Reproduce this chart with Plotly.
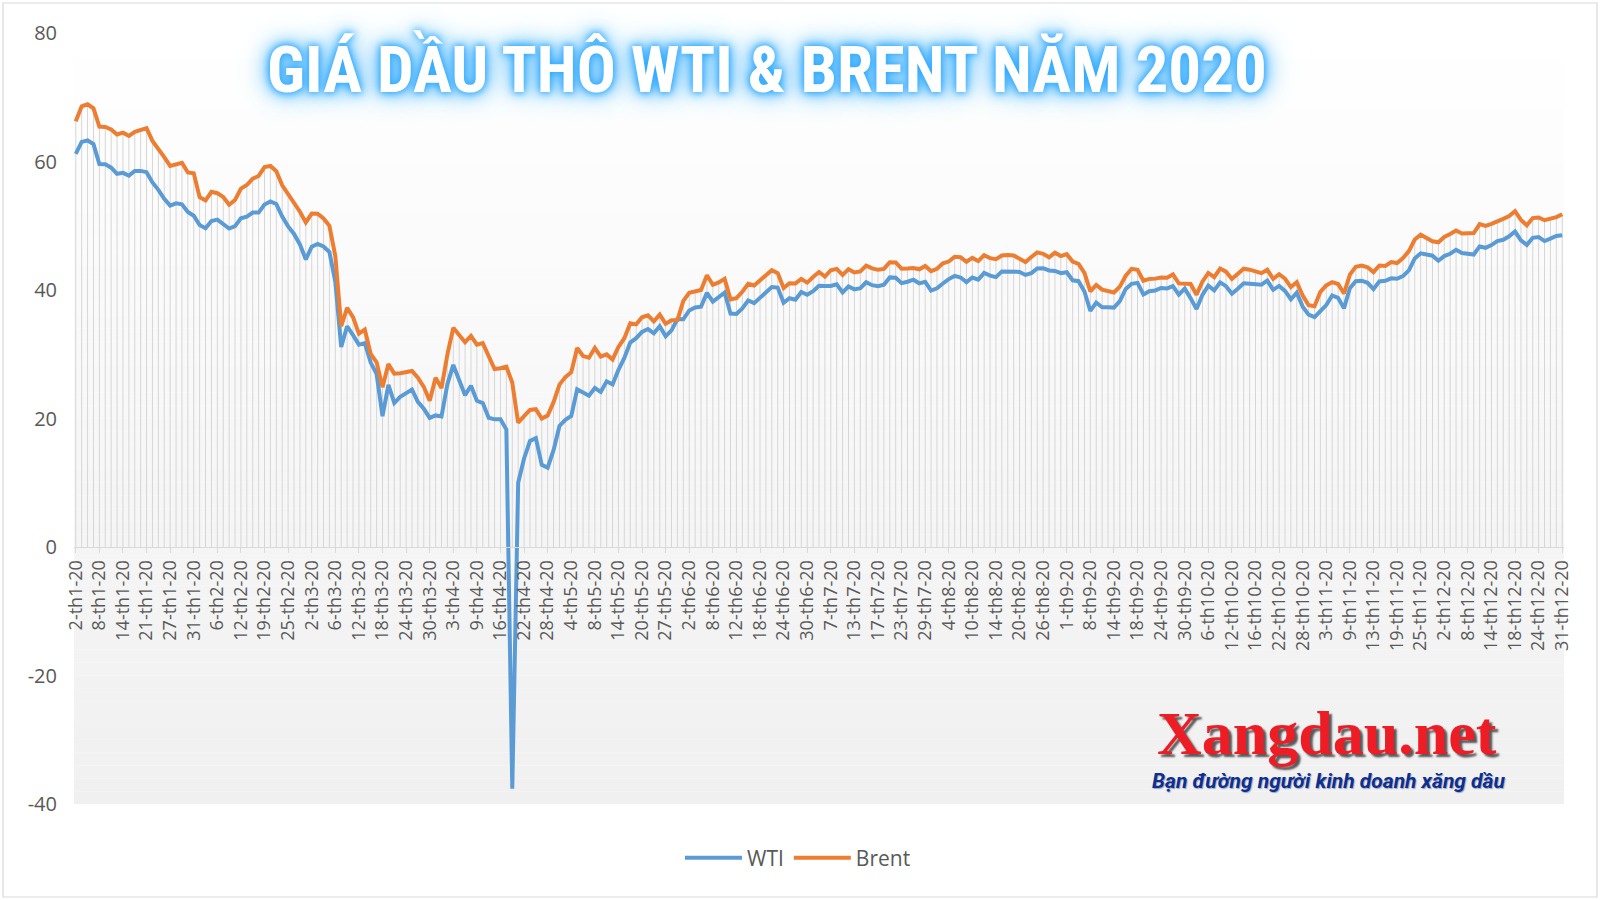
import plotly.graph_objects as go

# ---------------- data ----------------
YEAR_SUFFIX = "20"
TRADING_DAYS = {
    1: [2, 3, 6, 7, 8, 9, 10, 13, 14, 15, 16, 17, 21, 22, 23, 24, 27, 28, 29, 30, 31],
    2: [3, 4, 5, 6, 7, 10, 11, 12, 13, 14, 18, 19, 20, 21, 24, 25, 26, 27, 28],
    3: [2, 3, 4, 5, 6, 9, 10, 11, 12, 13, 16, 17, 18, 19, 20, 23, 24, 25, 26, 27, 30, 31],
    4: [1, 2, 3, 6, 7, 8, 9, 13, 14, 15, 16, 17, 20, 21, 22, 23, 24, 27, 28, 29, 30],
    5: [1, 4, 5, 6, 7, 8, 11, 12, 13, 14, 15, 18, 19, 20, 21, 22, 26, 27, 28, 29],
    6: [1, 2, 3, 4, 5, 8, 9, 10, 11, 12, 15, 16, 17, 18, 19, 22, 23, 24, 25, 26, 29, 30],
    7: [1, 2, 6, 7, 8, 9, 10, 13, 14, 15, 16, 17, 20, 21, 22, 23, 24, 27, 28, 29, 30, 31],
    8: [3, 4, 5, 6, 7, 10, 11, 12, 13, 14, 17, 18, 19, 20, 21, 24, 25, 26, 27, 28, 31],
    9: [1, 2, 3, 4, 8, 9, 10, 11, 14, 15, 16, 17, 18, 21, 22, 23, 24, 25, 28, 29, 30],
    10: [1, 2, 5, 6, 7, 8, 9, 12, 13, 14, 15, 16, 19, 20, 21, 22, 23, 26, 27, 28, 29, 30],
    11: [2, 3, 4, 5, 6, 9, 10, 11, 12, 13, 16, 17, 18, 19, 20, 23, 24, 25, 27, 30],
    12: [1, 2, 3, 4, 7, 8, 9, 10, 11, 14, 15, 16, 17, 18, 21, 22, 23, 24, 28, 29, 30, 31],
}
categories = [f"{d}-th{m}-{YEAR_SUFFIX}" for m, days in TRADING_DAYS.items() for d in days]

wti = [
    # Jan
    61.18, 63.05, 63.27, 62.70, 59.61, 59.56, 59.04, 58.08, 58.23, 57.81, 58.52, 58.54, 58.34, 56.74, 55.59, 54.19, 53.14, 53.48, 53.33, 52.14, 51.56,
    # Feb
    50.11, 49.61, 50.75, 50.95, 50.32, 49.57, 49.94, 51.17, 51.42, 52.05, 52.05, 53.29, 53.78, 53.38, 51.43, 49.90, 48.73, 47.09, 44.76,
    # Mar
    46.75, 47.18, 46.78, 45.90, 41.28, 31.13, 34.36, 32.98, 31.50, 31.73, 28.70, 26.95, 20.37, 25.22, 22.43, 23.36, 24.01, 24.49, 22.60, 21.51, 20.09, 20.48,
    # Apr
    20.31, 25.32, 28.34, 26.08, 23.63, 25.09, 22.76, 22.41, 20.11, 19.87, 19.87, 18.27, -37.63, 10.01, 13.78, 16.50, 16.94, 12.78, 12.34, 15.06, 18.84,
    # May
    19.78, 20.39, 24.56, 23.99, 23.55, 24.74, 24.14, 25.78, 25.29, 27.56, 29.43, 31.82, 32.50, 33.49, 33.92, 33.25, 34.35, 32.81, 33.71, 35.49,
    # Jun
    35.44, 36.81, 37.29, 37.41, 39.55, 38.19, 38.94, 39.60, 36.34, 36.26, 37.12, 38.38, 37.96, 38.84, 39.75, 40.46, 40.37, 38.01, 38.72, 38.49, 39.70, 39.27,
    # Jul
    39.82, 40.65, 40.63, 40.62, 40.90, 39.62, 40.55, 40.10, 40.29, 41.20, 40.75, 40.59, 40.81, 41.96, 41.90, 41.07, 41.29, 41.60, 41.04, 41.27, 39.92, 40.27,
    # Aug
    41.01, 41.70, 42.19, 41.95, 41.22, 41.94, 41.61, 42.67, 42.24, 42.01, 42.89, 42.89, 42.93, 42.82, 42.34, 42.62, 43.35, 43.39, 43.04, 42.97, 42.61,
    # Sep
    42.76, 41.51, 41.37, 39.77, 36.76, 38.05, 37.30, 37.33, 37.26, 38.28, 40.16, 40.97, 41.11, 39.31, 39.80, 39.93, 40.31, 40.25, 40.60, 39.29, 40.22,
    # Oct
    38.72, 37.05, 39.22, 40.67, 39.95, 41.19, 40.60, 39.43, 40.20, 41.04, 40.96, 40.88, 40.83, 41.46, 40.03, 40.64, 39.85, 38.56, 39.57, 37.39, 36.17, 35.79,
    # Nov
    36.81, 37.66, 39.15, 38.79, 37.14, 40.29, 41.36, 41.45, 41.12, 40.13, 41.34, 41.43, 41.82, 41.74, 42.15, 43.06, 44.91, 45.71, 45.53, 45.34,
    # Dec
    44.55, 45.28, 45.64, 46.26, 45.76, 45.60, 45.52, 46.78, 46.57, 46.99, 47.62, 47.82, 48.36, 49.10, 47.74, 47.02, 48.12, 48.23, 47.62, 48.00, 48.40, 48.52,
]

brent = [
    # Jan
    66.25, 68.60, 68.91, 68.27, 65.44, 65.37, 64.98, 64.20, 64.49, 64.00, 64.62, 64.85, 65.20, 63.21, 62.04, 60.69, 59.32, 59.51, 59.81, 58.29, 58.16,
    # Feb
    54.45, 53.96, 55.28, 55.07, 54.47, 53.27, 54.01, 55.79, 56.34, 57.32, 57.75, 59.12, 59.31, 58.50, 56.30, 54.95, 53.43, 52.18, 50.52,
    # Mar
    51.90, 51.86, 51.13, 49.99, 45.27, 34.36, 37.22, 35.79, 33.22, 33.85, 30.05, 28.73, 24.88, 28.47, 26.98, 27.03, 27.15, 27.39, 26.34, 24.93, 22.76, 26.35,
    # Apr
    24.74, 29.94, 34.11, 33.05, 31.87, 32.84, 31.48, 31.74, 29.60, 27.69, 27.82, 28.08, 25.57, 19.33, 20.37, 21.33, 21.44, 19.99, 20.46, 22.54, 25.27,
    # May
    26.44, 27.20, 30.97, 29.72, 29.46, 30.97, 29.63, 29.98, 29.19, 31.13, 32.50, 34.81, 34.65, 35.75, 36.06, 35.13, 36.17, 34.74, 35.29, 35.33,
    # Jun
    38.32, 39.57, 39.79, 39.99, 42.30, 40.80, 41.18, 41.73, 38.55, 38.73, 39.72, 40.96, 40.71, 41.51, 42.19, 43.08, 42.63, 40.31, 41.05, 41.02, 41.71, 41.15,
    # Jul
    42.03, 42.80, 42.10, 43.08, 43.29, 42.35, 43.24, 42.72, 42.90, 43.79, 43.37, 43.14, 43.28, 44.32, 44.29, 43.31, 43.34, 43.41, 43.22, 43.75, 42.94, 43.30,
    # Aug
    44.15, 44.43, 45.17, 45.09, 44.40, 44.99, 44.50, 45.43, 44.96, 44.80, 45.37, 45.46, 45.37, 44.90, 44.35, 45.13, 45.86, 45.64, 45.09, 45.81, 45.28,
    # Sep
    45.58, 44.43, 44.07, 42.66, 39.78, 40.79, 40.06, 39.83, 39.61, 40.53, 42.22, 43.30, 43.15, 41.44, 41.72, 41.77, 41.94, 41.92, 42.43, 41.03, 40.95,
    # Oct
    40.93, 39.27, 41.29, 42.65, 41.99, 43.34, 42.85, 41.72, 42.45, 43.32, 43.16, 42.93, 42.62, 43.16, 41.73, 42.46, 41.77, 40.46, 41.20, 39.12, 37.65, 37.46,
    # Nov
    39.71, 40.71, 41.23, 40.93, 39.45, 42.40, 43.61, 43.80, 43.53, 42.78, 43.82, 43.75, 44.34, 44.20, 44.96, 46.06, 47.86, 48.61, 48.18, 47.59,
    # Dec
    47.42, 48.25, 48.71, 49.25, 48.79, 48.84, 48.86, 50.25, 49.97, 50.29, 50.76, 51.08, 51.50, 52.26, 50.91, 50.08, 51.20, 51.29, 50.86, 51.09, 51.34, 51.80,
]

y_ticks = [-40, -20, 0, 20, 40, 60, 80]
y_tick_text = ["-40", "-20", "0", "20", "40", "60", "80"]
TITLE = "GIÁ DẦU THÔ WTI & BRENT NĂM 2020"
BRAND = "Xangdau.net"
SLOGAN = "Bạn đường người kinh doanh xăng dầu"

# ---------------- layout geometry ----------------
W, H = 1600, 900
ML, MR, MT, MB = 74, 36, 33, 96
PW, PH = W - ML - MR, H - MT - MB


def px_x(x):
    return (x - ML) / PW


def px_y(y):
    return (H - MB - y) / PH


GREY_TXT = "#595959"

fig = go.Figure()

# drop lines from axis to each point
drop_x, drop_y = [], []
for c, w, b in zip(categories, wti, brent):
    drop_x += [c, c, None]
    drop_y += [0, max(w, b, 0), None]
fig.add_trace(go.Scatter(x=drop_x, y=drop_y, mode="lines",
                         line=dict(color="#d6d6d6", width=1),
                         hoverinfo="skip", showlegend=False))

fig.add_trace(go.Scatter(x=categories, y=wti, mode="lines", name="WTI",
                         line=dict(color="#5b9bd5", width=4, shape="linear")))
fig.add_trace(go.Scatter(x=categories, y=brent, mode="lines", name="Brent",
                         line=dict(color="#ed7d31", width=4, shape="linear")))

# gradient background in plot area
shapes = []
N = 60
for i in range(N):
    t = i / (N - 1)
    v = int(round(240 + (255 - 240) * t))
    shapes.append(dict(type="rect", xref="paper", yref="paper",
                       x0=0, x1=1, y0=i / N, y1=(i + 1) / N,
                       fillcolor=f"rgb({v},{v},{v})", line=dict(width=0),
                       layer="below"))
# outer chart border
shapes.append(dict(type="rect", xref="paper", yref="paper",
                   x0=px_x(3), x1=px_x(1597), y0=px_y(897), y1=px_y(3),
                   line=dict(color="#d9d9d9", width=1.2), fillcolor="rgba(0,0,0,0)",
                   layer="above"))

annotations = [
    dict(text=TITLE, xref="paper", yref="paper", x=px_x(767), y=px_y(69),
         xanchor="center", yanchor="middle", showarrow=False,
         font=dict(family="Liberation Sans Narrow, Roboto Condensed, DejaVu Sans Condensed, Roboto",
                   size=65, color="#ffffff", weight="bold",
                   shadow="0 0 6px #2fa8ff, 0 0 12px #2fa8ff, 0 0 22px #58bdff, 0 0 34px #8fd3ff")),
    dict(text=BRAND, xref="paper", yref="paper", x=px_x(1327), y=px_y(733),
         xanchor="center", yanchor="middle", showarrow=False,
         font=dict(family="Liberation Serif, DejaVu Serif", size=62, color="#ee1c25",
                   weight="bold", shadow="3px 3px 2px #5a5a5a")),
    dict(text=SLOGAN, xref="paper", yref="paper", x=px_x(1328), y=px_y(781),
         xanchor="center", yanchor="middle", showarrow=False,
         font=dict(family="Roboto", size=21, color="#0d2f8e", weight="bold",
                   style="italic", shadow="1px 1px 1px #9aa4c0")),
]

fig.update_layout(
    width=W, height=H,
    margin=dict(l=ML, r=MR, t=MT, b=MB),
    paper_bgcolor="#ffffff", plot_bgcolor="#ffffff",
    font=dict(family="Open Sans", color=GREY_TXT),
    shapes=shapes, annotations=annotations,
    showlegend=True,
    legend=dict(orientation="h", x=px_x(798), y=px_y(858), xanchor="center",
                yanchor="middle", font=dict(size=21, color=GREY_TXT),
                bgcolor="rgba(0,0,0,0)", itemwidth=57, tracegroupgap=0),
    hovermode=False,
)

fig.update_xaxes(
    type="category", categoryorder="array", categoryarray=categories,
    range=[-0.3, len(categories) - 1 + 0.3],
    anchor="free", position=40 / 120,
    showline=True, linecolor="#d9d9d9", linewidth=1,
    ticks="outside", ticklen=5, tickcolor="#d9d9d9", tickwidth=1,
    tickmode="array", tickvals=categories[::4], ticktext=categories[::4],
    tickangle=-90, tickfont=dict(size=18, color=GREY_TXT, family="Open Sans"),
    showgrid=False, zeroline=False,
)
fig.update_yaxes(
    range=[-40, 80], domain=[0, 1], tickmode="array", tickvals=y_ticks,
    ticktext=y_tick_text,
    showgrid=False, zeroline=False, showline=False, ticks="",
    ticklabelstandoff=16, tickfont=dict(size=20, color=GREY_TXT, family="Open Sans"),
)

fig.write_html(
    "out.html",
    config={"displayModeBar": False},
    post_script="document.body.style.margin='0';document.body.style.overflow='hidden';",
)
